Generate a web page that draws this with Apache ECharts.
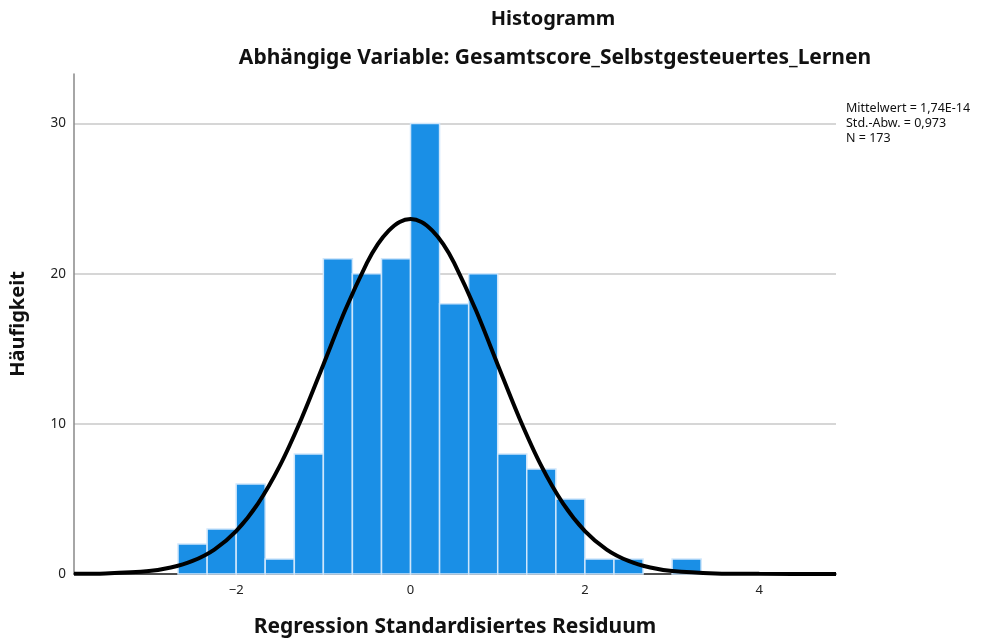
<!DOCTYPE html>
<html>
<head>
<meta charset="utf-8">
<script src="https://cdn.jsdelivr.net/npm/echarts@6/dist/echarts.min.js"></script>
<style>
  html, body { margin: 0; padding: 0; background: #fff; }
  #main { width: 1006px; height: 643px; }
</style>
</head>
<body>
<div id="main"></div>
<script>
// Klassengrenzen (Breite 1/3) und Häufigkeiten
const binLow  = [-2.667, -2.333, -2, -1.667, -1.333, -1, -0.667, -0.333, 0, 0.333, 0.667, 1, 1.333, 1.667, 2, 2.333, 2.667, 3];
const binHigh = [-2.333, -2, -1.667, -1.333, -1, -0.667, -0.333, 0, 0.333, 0.667, 1, 1.333, 1.667, 2, 2.333, 2.667, 3, 3.333];
const counts  = [2, 3, 6, 1, 8, 21, 20, 21, 30, 18, 20, 8, 7, 5, 1, 1, 0, 1];

// Normalverteilungskurve
const curveX = [-3.86, -3.5, -3, -2.75, -2.5, -2.25, -2, -1.75, -1.5, -1.25, -1, -0.75, -0.5, -0.375, -0.25, -0.125, 0, 0.125, 0.25, 0.375, 0.5, 0.75, 1, 1.25, 1.5, 1.75, 2, 2.25, 2.5, 2.75, 3, 3.5, 4, 4.88];
const curveY = [0.01, 0.04, 0.2, 0.43, 0.87, 1.63, 2.86, 4.69, 7.2, 10.36, 13.94, 17.56, 20.72, 21.97, 22.87, 23.45, 23.64, 23.45, 22.87, 21.97, 20.72, 17.56, 13.94, 10.36, 7.2, 4.69, 2.86, 1.63, 0.87, 0.43, 0.2, 0.04, 0.01, 0];

const xTicks = [-2, 0, 2, 4];
const yTicks = [0, 10, 20, 30];
const statLines = ['Mittelwert = 1,74E-14', 'Std.-Abw. = 0,973', 'N = 173'];

const font = 'Noto Sans';
const chart = echarts.init(document.getElementById('main'));

const barData = counts.map((c, i) => [binLow[i], binHigh[i], c]);
const lineData = curveX.map((x, i) => [x, curveY[i]]);

chart.setOption({
  animation: false,
  textStyle: { fontFamily: font },
  title: [
    { text: 'Histogramm', left: 548, top: 4, textAlign: 'center',
      textStyle: { fontSize: 20, fontWeight: 'bold', color: '#111', fontFamily: font } },
    { text: 'Abhängige Variable: Gesamtscore_Selbstgesteuertes_Lernen', left: 550, top: 43, textAlign: 'center',
      textStyle: { fontSize: 21, fontWeight: 'bold', color: '#111', fontFamily: font } }
  ],
  graphic: [{
    type: 'text', left: 846, top: 101,
    style: { text: statLines.join('\n'), fontSize: 12.5, lineHeight: 15, fill: '#111', fontFamily: font }
  }],
  grid: { left: 74, right: 170, top: 74, bottom: 67, containLabel: false },
  xAxis: {
    type: 'value', min: -3.86, max: 4.88,
    name: 'Regression Standardisiertes Residuum', nameLocation: 'middle', nameGap: 43,
    nameTextStyle: { fontSize: 21, fontWeight: 'bold', color: '#111', fontFamily: font },
    axisLine: { show: true, onZero: false, lineStyle: { color: '#222', width: 1.5 } },
    axisTick: { show: false, customValues: xTicks },
    splitLine: { show: false },
    axisLabel: { customValues: xTicks, fontSize: 13, color: '#222', margin: 10, formatter: v => String(v).replace('-', '\u2212') }
  },
  yAxis: {
    type: 'value', min: 0, max: 33.3,
    name: 'Häufigkeit', nameLocation: 'middle', nameGap: 46, nameRotate: 90,
    nameTextStyle: { fontSize: 20, fontWeight: 'bold', color: '#111', fontFamily: font },
    axisLine: { show: true, onZero: false, lineStyle: { color: '#888', width: 1.5 } },
    axisTick: { show: false, customValues: yTicks },
    axisLabel: { customValues: yTicks, fontSize: 13.5, color: '#222', margin: 8 },
    splitLine: { show: true, lineStyle: { color: '#c8c8c8', width: 1.5 } }
  },
  series: [
    {
      type: 'custom',
      data: barData,
      encode: { x: [0, 1], y: 2 },
      renderItem: function (params, api) {
        const c = api.value(2);
        if (!c) return null;
        const p0 = api.coord([api.value(0), c]);
        const p1 = api.coord([api.value(1), 0]);
        return {
          type: 'rect',
          shape: { x: p0[0], y: p0[1], width: p1[0] - p0[0], height: p1[1] - p0[1] },
          style: { fill: '#1a8fe6', stroke: '#cfe6fb', lineWidth: 1.5 }
        };
      },
      z: 2
    },
    {
      type: 'line',
      data: lineData,
      smooth: 0.3,
      showSymbol: false,
      lineStyle: { color: '#000', width: 4 },
      z: 3
    }
  ]
});
</script>
</body>
</html>
